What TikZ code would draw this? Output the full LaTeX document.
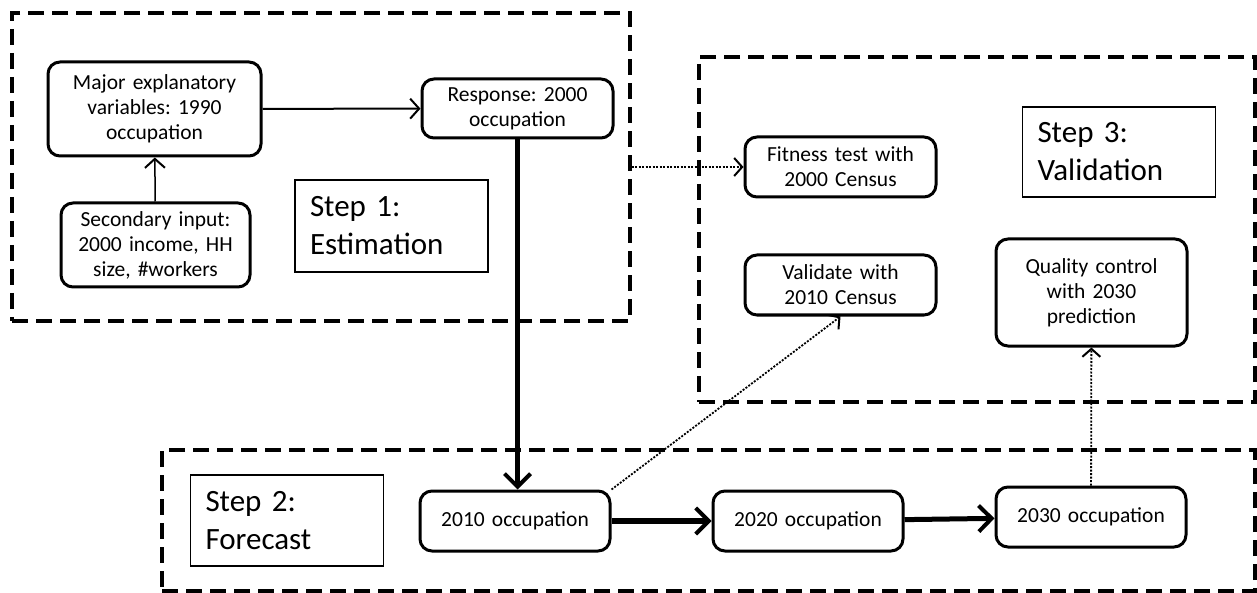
\documentclass[tikz,border=0pt]{standalone}
\usepackage{fontspec}
\setmainfont{Carlito}
\frenchspacing
\usetikzlibrary{arrows.meta}

\begin{document}
\begin{tikzpicture}[x=1pt, y=-1pt,
    box/.style={draw, line width=3pt, rounded corners=12pt, align=center, inner sep=0pt,
      font=\fontsize{21.5}{25}\selectfont},
    steplabel/.style={draw, line width=1.3pt, align=left, inner ysep=0pt, inner xsep=15pt,
      text width=163pt, font=\fontsize{31}{38}\selectfont},
    stepframe/.style={draw, line width=3.4pt, dash pattern=on 16pt off 8pt, inner sep=0pt},
    thinarr/.style={-{Straight Barb[length=9pt,width=20pt,line width=2pt]}},
    thickarr/.style={-{Straight Barb[length=13pt,width=26pt,line width=4pt]}},
    dotarr/.style={line width=2.2pt, dash pattern=on 2pt off 1.5pt,
      -{Straight Barb[length=8pt,width=18pt,line width=2pt]}}]
    \useasboundingbox (0,0) rectangle (1257,593);
    % dashed frames round the three steps
    \node[stepframe, minimum width=618pt, minimum height=308pt] (frame1) at (321,167) {};
    \node[stepframe, minimum width=556pt, minimum height=345pt] (frame3) at (977,229.5) {};
    \node[stepframe, minimum width=1093pt, minimum height=141pt] (frame2) at (708.5,520.5) {};
    % Step 1: estimation
    \node[box, minimum width=213pt, minimum height=94pt, text width=205pt] (major) at (154.5,109)
      {Major explanatory\\variables: 1990\\occupation};
    \node[box, minimum width=191pt, minimum height=59pt, text width=185pt] (response) at (517.5,108.5)
      {Response: 2000\\occupation};
    \node[box, minimum width=189pt, minimum height=84pt, text width=185pt] (secondary) at (155.5,245)
      {Secondary input:\\2000 income, HH\\size, \#workers};
    \node[steplabel, minimum height=92pt] (step1) at (391.5,226) {Step 1:\\Estimation};
    % Step 3: validation
    \node[box, minimum width=191pt, minimum height=60pt, text width=185pt] (fitness) at (840.5,167)
      {Fitness test with\\2000 Census};
    \node[box, minimum width=191pt, minimum height=60pt, text width=185pt] (validate) at (840.5,285)
      {Validate with\\2010 Census};
    \node[box, minimum width=191pt, minimum height=107pt, text width=185pt] (quality) at (1091.5,292.5)
      {Quality control\\with 2030\\prediction};
    \node[steplabel, minimum height=90pt] (step3) at (1119,152) {Step 3:\\Validation};
    % Step 2: forecast
    \node[box, minimum width=190pt, minimum height=60pt, text width=185pt] (y2010) at (515,521) {2010 occupation};
    \node[box, minimum width=190pt, minimum height=60pt, text width=185pt] (y2020) at (808,521) {2020 occupation};
    \node[box, minimum width=190pt, minimum height=60pt, text width=185pt] (y2030) at (1091,517) {2030 occupation};
    \node[steplabel, minimum height=91pt] (step2) at (287,520.5) {Step 2:\\Forecast};
    % connectors
    \draw[thinarr, line width=2pt] (major) -- (response);
    \draw[thinarr, line width=1.5pt] (secondary) -- (major);
    \draw[thickarr, line width=4.5pt] (response.south) -- (response.south |- y2010.north);
    \draw[thickarr, line width=6pt] (y2010) -- (y2020);
    \draw[thickarr, line width=5pt] (y2020) -- (y2030);
    \draw[dotarr] (frame1.east |- fitness.west) -- (fitness.west);
    \draw[dotarr, line width=1.8pt] (y2010.north east) -- (validate.south);
    \draw[dotarr, line width=1.8pt] (y2030) -- (quality);
\end{tikzpicture}
\end{document}
